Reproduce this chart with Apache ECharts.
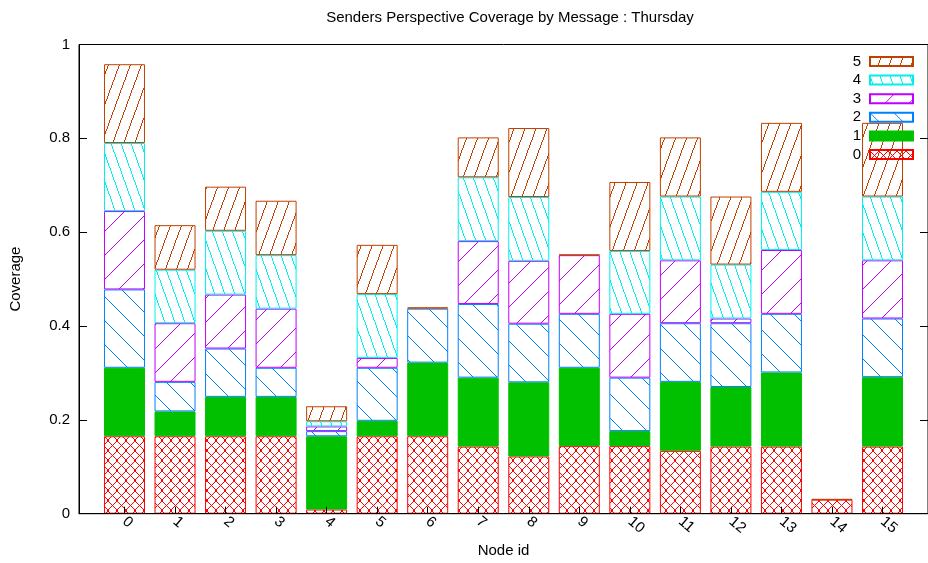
<!DOCTYPE html>
<html>
<head>
<meta charset="utf-8">
<script src="https://cdn.jsdelivr.net/npm/echarts@6/dist/echarts.min.js"></script>
<style>
  html, body { margin: 0; padding: 0; background: #fff; }
  #chart { width: 928px; height: 563px; }
</style>
</head>
<body>
<div id="chart"></div>
<script>
const nodes = ['0', '1', '2', '3', '4', '5', '6', '7', '8', '9', '10', '11', '12', '13', '14', '15'];
const seriesNames = ['0', '1', '2', '3', '4', '5'];

// coverage per node, one array per message
const msg0 = [0.165, 0.165, 0.165, 0.165, 0.009, 0.165, 0.165, 0.143, 0.122, 0.144, 0.144, 0.134, 0.143, 0.143, 0.030, 0.143];
const msg1 = [0.146, 0.053, 0.084, 0.084, 0.156, 0.033, 0.157, 0.147, 0.158, 0.167, 0.032, 0.147, 0.127, 0.158, 0, 0.148];
const msg2 = [0.167, 0.063, 0.103, 0.062, 0.011, 0.113, 0.115, 0.157, 0.125, 0.115, 0.114, 0.125, 0.136, 0.125, 0, 0.125];
const msg3 = [0.167, 0.125, 0.115, 0.126, 0.010, 0.021, 0, 0.134, 0.134, 0.125, 0.136, 0.134, 0.010, 0.136, 0, 0.124];
const msg4 = [0.145, 0.114, 0.136, 0.114, 0.011, 0.136, 0, 0.136, 0.136, 0, 0.134, 0.136, 0.115, 0.124, 0, 0.136];
const msg5 = [0.168, 0.095, 0.094, 0.116, 0.032, 0.105, 0.003, 0.085, 0.147, 0.001, 0.147, 0.126, 0.145, 0.147, 0.001, 0.157];
const yTicks = [0, 0.2, 0.4, 0.6, 0.8, 1];

const colors = ['#ff0000', '#00c000', '#0080ff', '#c000ff', '#00eeee', '#c04000'];
const font = '"Liberation Sans", Arial, sans-serif';

// crisp 1px hatch tiles, drawn pixel by pixel like gnuplot's png fills
function hatch(color, w, h, dirs) {
  const c = document.createElement('canvas');
  c.width = w; c.height = h;
  const g = c.getContext('2d');
  g.fillStyle = color;
  dirs.forEach(d => {
    const n = Math.max(w, h);
    for (let s = 0; s < n; s++) {
      const y = Math.floor(s * h / n);
      let x = Math.floor(s * w / n);
      if (d === '/') x = w - 1 - x;
      g.fillRect(x, y, 1, 1);
    }
  });
  return { image: c, repeat: 'repeat' };
}

const fills = [
  hatch(colors[0], 9, 10, ['/', '\\']),
  colors[1],
  hatch(colors[2], 24, 24, ['\\']),
  hatch(colors[3], 24, 24, ['/']),
  hatch(colors[4], 10, 28, ['\\']),
  hatch(colors[5], 11, 30, ['/'])
];

const data = [msg0, msg1, msg2, msg3, msg4, msg5];

const chart = echarts.init(document.getElementById('chart'));
chart.setOption({
  animation: false,
  title: {
    text: 'Senders Perspective Coverage by Message : Thursday',
    left: 505,
    top: 5,
    textAlign: 'center',
    textStyle: { fontFamily: font, fontSize: 15, fontWeight: 'normal', color: '#000' }
  },
  legend: {
    data: seriesNames.slice().reverse(),
    orient: 'vertical',
    right: 14,
    top: 54,
    padding: 0,
    align: 'right',
    icon: 'rect',
    itemWidth: 43,
    itemHeight: 9,
    itemGap: 3.6,
    textStyle: { fontFamily: font, fontSize: 15, color: '#000', padding: [0, 4, 0, 0] }
  },
  grid: {
    left: 79, right: -3, top: 44.5, bottom: 35,
    show: true, borderColor: '#000', borderWidth: 1
  },
  xAxis: {
    type: 'value',
    min: -0.9,
    max: 15.9,
    z: 5,
    name: 'Node id',
    nameLocation: 'middle',
    nameGap: 19,
    nameTextStyle: { fontFamily: font, fontSize: 15, color: '#000' },
    axisLine: { onZero: false, lineStyle: { color: '#000' } },
    splitLine: { show: false },
    axisTick: { inside: true, length: 7, lineStyle: { color: '#000' }, customValues: nodes.map(Number) },
    axisLabel: {
      customValues: nodes.map(Number),
      rotate: -40,
      margin: 6,
      fontFamily: font, fontSize: 15, color: '#000',
      formatter: v => nodes[v]
    }
  },
  yAxis: [{
    type: 'value',
    min: 0, max: 1, interval: 0.2,
    name: 'Coverage',
    nameLocation: 'middle',
    nameGap: 56,
    nameTextStyle: { fontFamily: font, fontSize: 15, color: '#000' },
    axisLine: { show: true, onZero: false, lineStyle: { color: '#000' } },
    splitLine: { show: false },
    axisTick: { inside: true, length: 8, lineStyle: { color: '#000' }, customValues: yTicks },
    axisLabel: { margin: 9, fontFamily: font, fontSize: 15, color: '#000', customValues: yTicks }
  }, {
    type: 'value',
    position: 'right',
    min: 0, max: 1, interval: 0.2,
    axisLine: { show: false, onZero: false },
    splitLine: { show: false },
    axisTick: { show: true, inside: true, length: 8, lineStyle: { color: '#000' } },
    axisLabel: { show: false }
  }],
  // value first in each row so the stack runs along y
  series: data.map((vals, k) => ({
    name: seriesNames[k],
    type: 'bar',
    stack: 'cov',
    barWidth: 41,
    encode: { x: 1, y: 0 },
    itemStyle: { color: fills[k], borderColor: colors[k], borderWidth: 1 },
    emphasis: { disabled: true },
    data: vals.map((v, i) => [v === 0 ? '-' : v, i])
  }))
});
</script>
</body>
</html>
